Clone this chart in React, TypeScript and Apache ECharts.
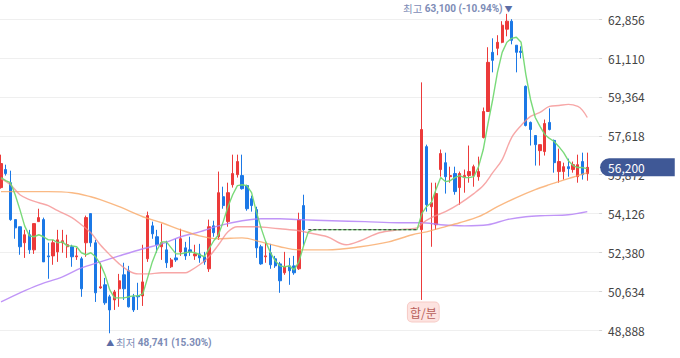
import React, { useEffect, useRef } from 'react';
import * as echarts from 'echarts';

// Daily candles [open, close, low, high] before the trading halt
const candlesBefore: number[][] = [
  [55290, 56370, 55240, 56770], [56100, 55920, 55830, 56320], [55510, 53850, 53800, 56050], [53850, 53480, 52990, 53850],
  [53530, 52630, 52270, 53530], [52810, 53170, 52130, 53390], [53170, 52490, 52310, 53390], [52490, 53670, 52310, 53670],
  [53760, 53940, 53760, 54340], [53850, 51950, 51950, 53940], [52220, 52180, 51190, 52810], [52220, 52810, 51820, 52940],
  [52400, 52940, 51950, 53390], [52810, 52900, 52360, 53390], [52630, 52720, 52130, 53170], [52630, 52180, 51730, 52720],
  [52180, 52220, 52040, 52580], [52090, 50740, 50380, 52180], [52810, 53940, 52180, 54030], [54120, 52810, 52630, 54120],
  [52810, 50560, 50150, 52940], [50780, 50830, 50740, 51910], [50920, 50110, 50020, 51230], [50380, 49790, 48741, 50470],
  [50240, 50600, 49790, 50690], [50740, 51100, 49930, 51410], [51370, 50740, 50240, 51910], [51550, 49930, 49900, 51770],
  [50380, 49790, 49700, 50510], [50420, 50380, 49790, 51010], [50420, 51050, 49970, 52720], [52090, 54030, 51950, 54210],
  [53570, 53210, 52990, 53760], [53080, 52720, 52360, 53390], [52630, 52810, 52040, 53670], [52490, 51910, 51680, 52900],
  [51730, 52040, 51680, 52130], [52130, 52040, 51950, 52990], [52400, 52990, 52220, 53440], [52580, 52220, 52040, 52850],
  [52490, 52400, 52220, 53080], [52220, 52310, 52040, 52720], [52310, 52130, 51910, 52760], [52180, 51950, 51820, 52400],
  [51640, 53530, 51500, 53850], [53570, 53260, 53080, 53800], [53080, 55060, 52940, 56010], [54880, 54480, 54340, 55330],
  [53760, 55060, 53530, 55510], [55420, 55920, 55290, 56770], [55870, 56460, 55740, 56770], [55830, 55240, 55200, 56770],
  [55380, 54340, 54250, 55420], [54790, 54480, 54210, 54930], [54300, 52580, 52130, 54430], [52630, 51860, 51820, 52720],
  [52180, 52220, 51910, 52810], [52360, 51820, 51640, 52760], [52090, 51770, 51680, 52220], [51860, 51100, 50560, 51950],
  [51460, 51730, 51370, 52400], [51770, 51550, 50920, 52130], [51770, 51460, 51370, 52220], [51640, 53850, 51590, 54160],
  [54480, 53400, 52630, 54970],
];

// Trading halt (merger / split): days with a constant price and no candle
const haltDays = 24;
const haltPrice = 53400;

// Daily candles [open, close, low, high] after trading resumed
const candlesAfter: number[][] = [
  [53400, 57900, 50240, 60020], [57130, 54520, 54210, 57220], [54430, 54610, 52630, 55510], [53620, 55020, 53390, 55510],
  [56100, 56820, 55780, 57000], [56410, 55780, 55020, 56860], [55780, 55830, 55510, 56230], [55920, 55110, 54970, 56230],
  [55290, 55920, 54520, 56010], [55780, 55830, 55060, 56100], [55830, 56010, 55510, 57180], [55830, 56230, 55330, 56320],
  [55780, 56010, 55600, 56680], [57540, 58710, 57500, 58890], [58710, 60920, 58710, 61600], [61370, 61010, 60470, 62000],
  [61550, 61820, 61240, 62140], [61820, 62590, 61780, 62770], [62410, 62770, 62090, 63100], [62770, 61910, 61730, 62860],
  [61690, 61370, 60470, 61690], [61420, 61370, 61100, 61640], [59840, 58080, 58040, 59880], [58220, 57900, 57180, 58260],
  [57630, 57220, 56280, 57630], [56950, 57220, 56280, 57220], [56910, 58170, 56730, 58350], [58220, 57900, 57860, 58850],
  [57410, 56410, 55960, 57450], [56010, 56460, 55510, 57040], [56010, 56230, 55650, 56410], [56230, 56140, 55780, 56590],
  [56100, 56320, 55960, 56460], [55780, 56320, 55510, 56770], [56460, 55870, 55650, 56860], [55920, 56200, 55600, 56860],
];

// Empty slots to the right of the last candle
const padSlots = 2;

// 5-day moving average, one value per day
const ma5: number[] = [
  55740, 55600, 55510, 54970, 54300, 53570, 53120, 53080, 53170, 53080,
  52940, 52940, 52810, 52850, 52670, 52670, 52630, 52360, 52270, 52360,
  52180, 51860, 51370, 50690, 50330, 50330, 50330, 50380, 50420, 50420,
  50510, 51230, 51950, 52490, 52850, 52850, 52580, 52310, 52310, 52360,
  52400, 52360, 52270, 52180, 52540, 52900, 53170, 53760, 54430, 54970,
  55380, 55420, 55380, 55060, 54210, 53480, 52850, 52360, 52000, 51770,
  51730, 51770, 51590, 51950, 52670, 53300, 53390,
  53400, 53400, 53400, 53400, 53400, 53400, 53400, 53400, 53400, 53400, 53400,
  53400, 53400, 53400, 53400, 53400, 53400, 53400, 53400, 53400, 53400, 53400,
  54120, 54430, 54610, 55200, 55740, 55560, 55600, 55740, 55830, 55740,
  55740, 55780, 56230, 57000, 58170, 59250, 60470, 61370, 61820, 62000,
  62050, 61820, 60380, 59250, 58440, 58040, 57680, 57500, 57360, 57130,
  56860, 56500, 56280, 56190, 56190, 56140,
];

// 20-day moving average [dayIndex, value]
const ma20: number[][] = [
  [0, 55690], [2, 55420], [4, 54970], [6, 54750], [8, 54610], [10, 54480], [12, 54250], [15, 53940],
  [17, 53620], [19, 53260], [21, 52720], [23, 52270], [25, 51860], [27, 51550], [29, 51410], [31, 51410],
  [34, 51460], [37, 51460], [39, 51460], [40, 51550], [42, 51820], [44, 52180], [46, 52720], [48, 53300],
  [50, 53530], [54, 53530], [57, 53480], [59, 53440], [63, 53350], [65, 53260], [69, 53080], [73, 52720],
  [76, 52900], [80, 53260], [84, 53390], [88, 53480], [89, 53670], [91, 53940], [94, 54210], [97, 54570],
  [100, 55020], [102, 55380], [104, 55960], [106, 56550], [108, 57540], [110, 58080], [112, 58490], [114, 58670],
  [116, 58940], [118, 58980], [120, 59030], [122, 58940], [123, 58760], [124, 58440],
];

// 60-day moving average [dayIndex, value]
const ma60: number[][] = [
  [0, 55110], [6, 55110], [10, 55110], [15, 55060], [19, 54880], [21, 54750], [25, 54430], [30, 53980],
  [34, 53710], [38, 53390], [42, 53120], [46, 52990], [51, 53030], [55, 52850], [59, 52630], [63, 52490],
  [69, 52490], [76, 52630], [82, 52850], [87, 53170], [90, 53300], [93, 53480], [97, 53710], [101, 53980],
  [105, 54430], [109, 54840], [113, 55200], [116, 55420], [120, 55690], [122, 55830], [124, 55960],
];

// 120-day moving average [dayIndex, value]
const ma120: number[][] = [
  [0, 50150], [4, 50560], [8, 50920], [13, 51280], [17, 51680], [21, 51950], [25, 52220], [30, 52540],
  [34, 52760], [38, 53080], [42, 53300], [46, 53570], [51, 53800], [55, 53890], [59, 53890], [63, 53850],
  [70, 53800], [77, 53760], [84, 53710], [89, 53710], [93, 53620], [98, 53570], [103, 53620], [107, 53850],
  [111, 53980], [115, 54030], [120, 54070], [124, 54210],
];

// Price axis: ticks every 1,746 won
const yMin = 47142;
const yMax = 64602;
const yInterval = 1746;

const lastPrice = 56200;
const eventLabel = '합/분';
const highWord = '최고';
const lowWord = '최저';

const FONT = "'Noto Sans CJK KR', 'Noto Sans', sans-serif";
const NUMFONT = "Roboto, 'Noto Sans CJK KR', sans-serif";
const UP = '#ec3a3a';
const DOWN = '#1b78e6';

const fmt = (n: number) => n.toLocaleString('en-US');

export default function App() {
  const ref = useRef<HTMLDivElement>(null);

  useEffect(() => {
    if (!ref.current) return;
    const chart = echarts.init(ref.current, undefined, { renderer: 'svg' });

    const candleData: any[] = [
      ...candlesBefore,
      ...Array.from({ length: haltDays }, () => '-'),
      ...candlesAfter,
    ];
    const total = candleData.length + padSlots;
    const categories = Array.from({ length: total }, (_, i) => String(i));

    let maxIdx = 0, maxVal = -Infinity, minIdx = 0, minVal = Infinity;
    candleData.forEach((d, i) => {
      if (Array.isArray(d)) {
        if (d[3] > maxVal) { maxVal = d[3]; maxIdx = i; }
        if (d[2] < minVal) { minVal = d[2]; minIdx = i; }
      }
    });
    const eventIdx = candlesBefore.length + haltDays;
    const eventLow = candlesAfter[0][2];
    const pctHigh = ((lastPrice - maxVal) / maxVal * 100).toFixed(2);
    const pctLow = ((lastPrice - minVal) / minVal * 100).toFixed(2);

    const haltLine: number[][] = [];
    for (let i = 0; i < haltDays; i++) haltLine.push([candlesBefore.length + i, haltPrice]);

    const maLine = (name: string, data: any[], color: string, opacity: number, smooth: any, z: number) => ({
      name, type: 'line', data, showSymbol: false, symbol: 'none', smooth, z,
      lineStyle: { color, width: 1.4, opacity },
      emphasis: { disabled: true }, silent: true,
    });

    const rich = {
      a: { color: '#7d8cb6', fontSize: 10.5, fontFamily: FONT },
      b: { color: '#7d8cb6', fontSize: 10, fontWeight: 'bold', fontFamily: NUMFONT },
      c: { color: '#5a6ca6', fontSize: 8, fontFamily: FONT },
    };

    const option: any = {
      animation: false,
      grid: { left: -1.36, right: 80.9, top: -19.56, bottom: -10.84, containLabel: false, outerBoundsMode: 'none' },
      xAxis: { type: 'category', data: categories, boundaryGap: true, show: false },
      yAxis: {
        type: 'value', position: 'right', min: yMin, max: yMax, interval: yInterval,
        axisLine: { show: false },
        axisTick: { show: true, length: 3, lineStyle: { color: '#d5d5d5' } },
        axisLabel: {
          margin: 9, color: '#444', fontSize: 12, fontFamily: FONT,
          showMinLabel: false, showMaxLabel: false, formatter: (v: number) => fmt(v),
        },
        splitLine: { lineStyle: { color: '#efefef', width: 1 } },
      },
      series: [
        {
          name: 'price', type: 'candlestick', data: candleData, barWidth: 2.8, z: 3,
          itemStyle: { color: UP, color0: DOWN, borderColor: UP, borderColor0: DOWN, borderWidth: 1 },
          markPoint: {
            symbol: 'circle', symbolSize: 1, itemStyle: { color: 'rgba(0,0,0,0)' },
            data: [
              {
                coord: [maxIdx, maxVal],
                label: {
                  show: true, position: [0, 0], align: 'right', verticalAlign: 'middle', offset: [6, -5],
                  formatter: `{a|${highWord} }{b|${fmt(maxVal)} (${pctHigh}%)}{c| ▼}`,
                  rich,
                },
              },
              {
                coord: [minIdx, minVal],
                label: {
                  show: true, position: [0, 0], align: 'left', verticalAlign: 'middle', offset: [-3, 10],
                  formatter: `{c|▲ }{a|${lowWord} }{b|${fmt(minVal)} (${pctLow}%)}`,
                  rich,
                },
              },
              {
                coord: [eventIdx, eventLow],
                label: {
                  show: true, position: [0, 0], align: 'center', verticalAlign: 'top', offset: [2, 3],
                  formatter: eventLabel, color: '#b8605a', fontSize: 12, fontFamily: FONT,
                  backgroundColor: '#fde3e0', borderColor: '#f7cbc6', borderWidth: 1, borderRadius: 4,
                  padding: [3, 2, 2, 2], lineHeight: 14,
                },
              },
            ],
          },
          markLine: {
            symbol: ['none', 'none'], silent: true,
            lineStyle: { color: 'rgba(0,0,0,0)', width: 1 },
            data: [{ yAxis: lastPrice }],
            label: {
              show: true, position: 'end', distance: 1, formatter: fmt(lastPrice),
              color: '#ffffff', fontSize: 12, fontFamily: FONT, lineHeight: 13,
              backgroundColor: '#3f5896', borderRadius: [9, 0, 0, 9], padding: [3, 30, 2, 8],
            },
          },
        },
        maLine('MA120', ma120, '#b582f6', 0.85, 0.35, 4),
        maLine('MA60', ma60, '#f9a865', 0.8, 0.35, 4),
        maLine('MA20', ma20, '#f48a8a', 0.75, 0.35, 4),
        maLine('MA5', ma5, '#72d872', 0.95, false, 5),
        {
          name: 'halt', type: 'line', data: haltLine, showSymbol: false, symbol: 'none', z: 6, silent: true,
          lineStyle: { color: '#4a4a4a', width: 1.3, type: [3, 2] },
        },
      ],
    };

    chart.setOption(option);
    return () => chart.dispose();
  }, []);

  return (
    <div
      ref={ref}
      style={{ position: 'fixed', left: 0, top: 0, width: 680, height: 358, background: '#ffffff' }}
    />
  );
}
